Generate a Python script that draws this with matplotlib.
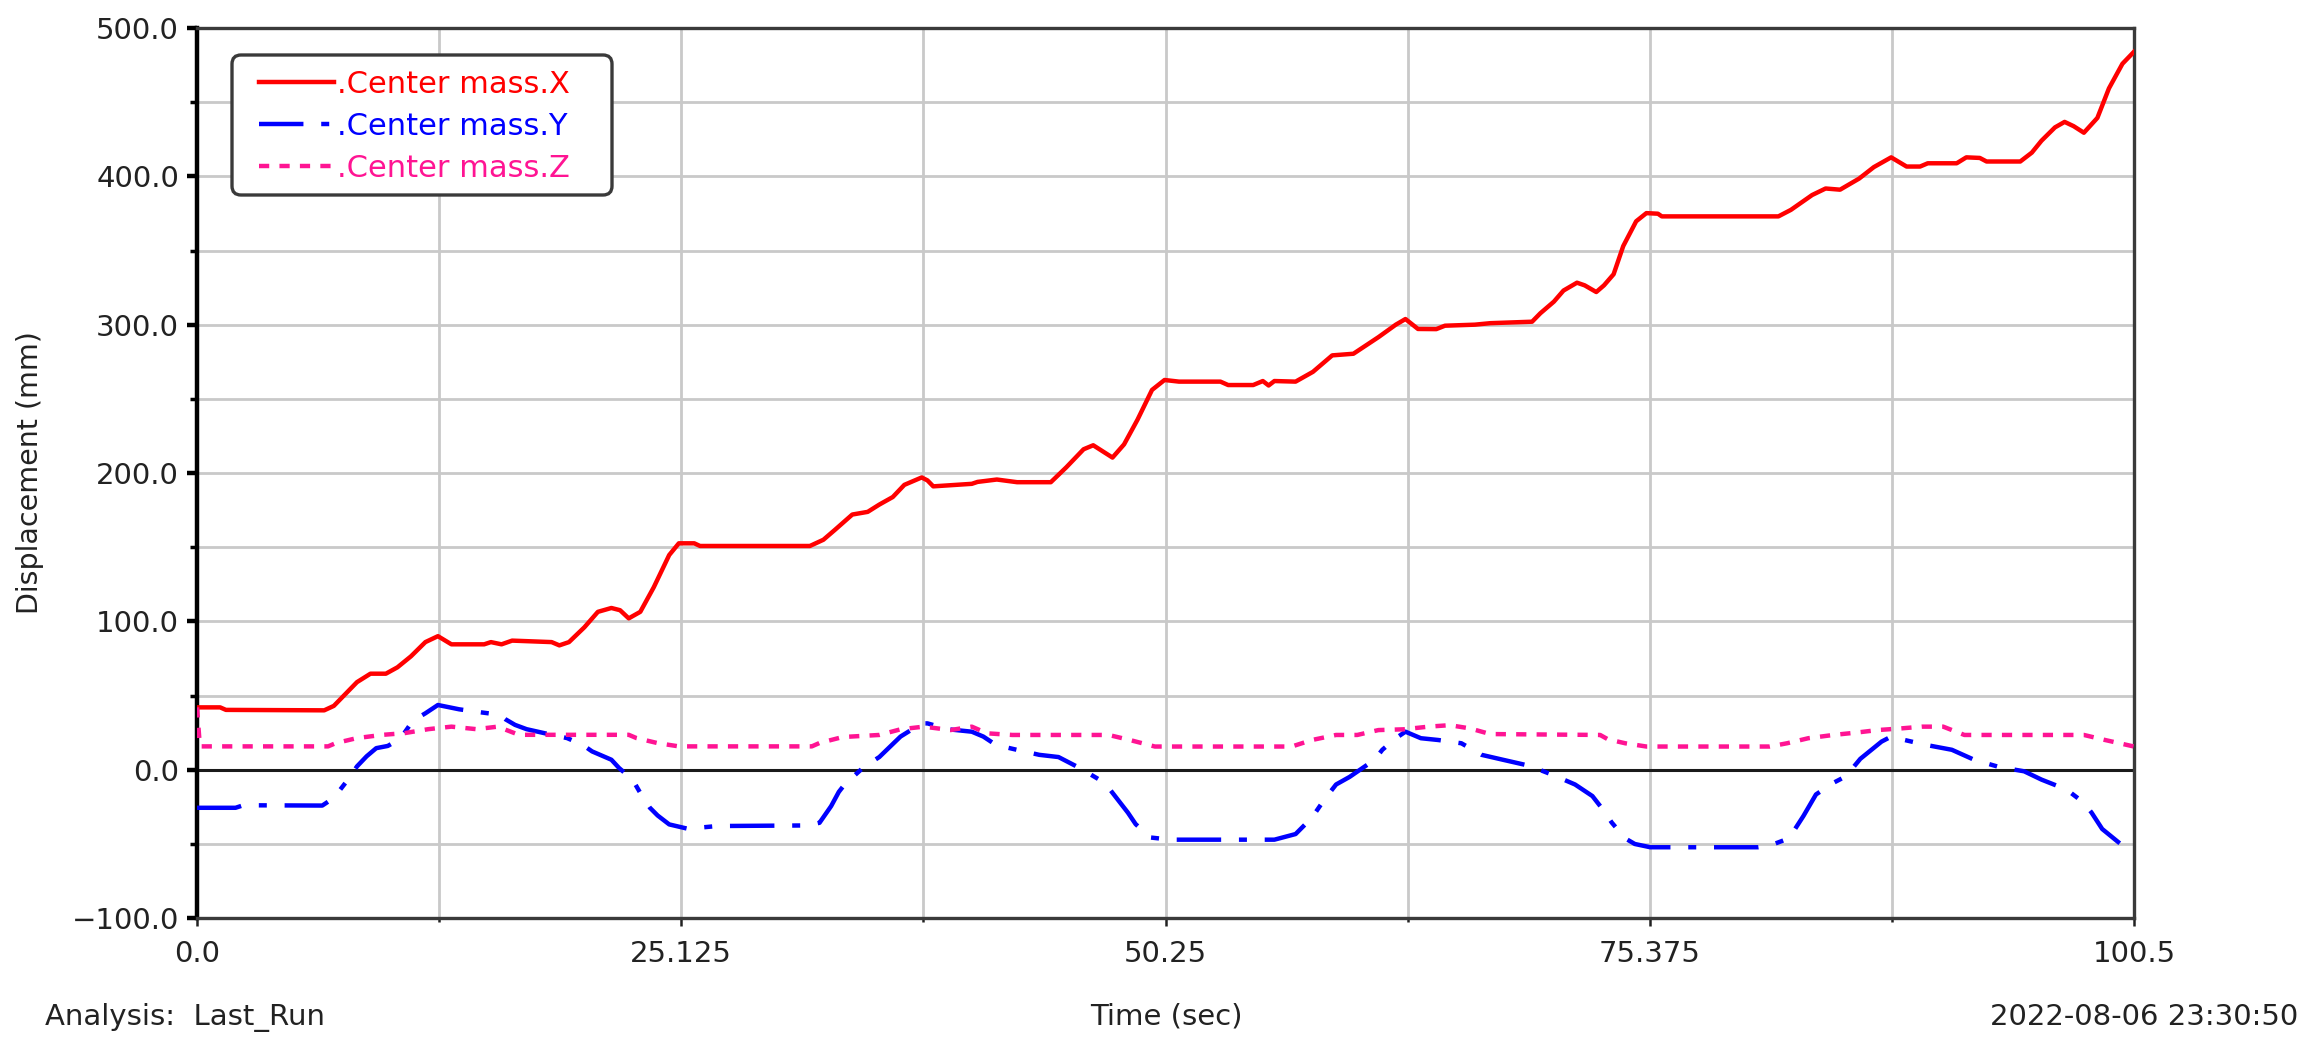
import matplotlib
matplotlib.use("Agg")
import matplotlib.pyplot as plt
from matplotlib.patches import FancyBboxPatch
from matplotlib.transforms import IdentityTransform
import numpy as np

plt.rcParams['font.family'] = ['DejaVu Sans']

# ---- data ----
x_time = [0, 1.2, 1.5, 6.6, 7.1, 8.3, 9.0, 9.8, 10.4, 11.1, 11.85, 12.5, 13.2, 14.9, 15.25, 15.8,
          16.35, 18.4, 18.8, 19.3, 20.1, 20.8, 21.5, 21.95, 22.4, 23.0, 23.7, 24.5, 25.0, 25.8,
          26.1, 31.8, 32.5, 33.1, 34.0, 34.8, 35.4, 36.1, 36.7, 37.6, 37.9, 38.2, 40.2, 40.5,
          41.5, 42.55, 44.3, 45.1, 46.0, 46.5, 47.5, 48.1, 48.8, 49.55, 50.2, 50.95, 53.1, 53.5,
          54.8, 55.3, 55.6, 55.9, 57.0, 57.9, 58.9, 60.0, 61.3, 62.2, 62.7, 63.35, 64.3, 64.75,
          66.3, 67.1, 69.27, 69.7, 70.4, 70.9, 71.6, 72.0, 72.6, 73.0, 73.5, 74.0, 74.67, 75.2,
          75.8, 76.0, 82.05, 82.7, 83.8, 84.5, 85.25, 86.24, 87.0, 87.9, 88.7, 89.4, 89.8, 91.3,
          91.8, 92.5, 92.85, 94.6, 95.2, 95.7, 96.4, 96.9, 97.37, 97.9, 98.6, 99.2, 99.9, 100.5]
x_disp = [42, 42, 40.3, 40, 43, 59, 64.7, 64.7, 69, 76.4, 86, 90, 84.5, 84.5, 86, 84.5,
          87, 86, 83.8, 86, 96, 106.4, 109, 107.5, 102, 106.4, 123, 144.7, 152.6, 152.6,
          150.8, 150.8, 155, 161.7, 172, 173.8, 178.7, 183.8, 192, 197, 195, 191, 192.7, 194,
          195.6, 193.8, 193.8, 203.8, 216, 218.7, 210.4, 219.3, 236, 256, 262.7, 261.6, 261.6, 259.3,
          259.3, 262, 259, 262, 261.6, 268.2, 279.3, 280.4, 291.6, 300, 303.8, 297.1, 297, 299.3,
          300, 301, 302, 307.7, 315.5, 323, 328.3, 326.5, 322, 326.5, 334, 353, 369.7, 375.2,
          374.8, 373, 373, 377.4, 387.4, 391.8, 391, 398.5, 406.2, 412.8, 406.6, 406.6, 408.8, 408.8,
          412.8, 412.4, 410, 410, 416, 424, 433, 436.7, 433.8, 429.4, 439.4, 459.3, 475.9, 484]

y_time = [0, 2.0, 2.4, 6.5, 7.1, 7.9, 8.3, 8.8, 9.3, 9.9, 10.3, 10.75, 11.2, 11.85, 12.5, 13.6,
          14.7, 15.7, 16.0, 16.5, 17.1, 18.4, 19.2, 20.0, 20.5, 21.5, 21.9, 22.6, 23.0, 23.5,
          23.9, 24.5, 25.45, 27.0, 31.7, 32.3, 32.9, 33.3, 33.6, 34.6, 35.4, 36.5, 37.6, 37.9,
          39.0, 40.2, 40.8, 41.45, 42.4, 43.7, 44.7, 45.8, 47.1, 47.9, 48.3, 48.7, 49.45, 50.5,
          55.9, 57.0, 57.85, 58.5, 59.1, 59.8, 61.1, 61.5, 62.2, 62.7, 63.5, 64.4, 65.6, 66.65,
          67.75, 69.1, 70.3, 71.5, 72.4, 73.0, 73.4, 74.1, 74.6, 75.4, 81.0, 81.6, 82.6, 83.35,
          84.0, 84.9, 85.55, 86.3, 87.4, 87.9, 88.6, 89.7, 91.05, 92.2, 93.5, 94.8, 95.7, 97.0,
          97.9, 98.3, 98.85, 99.7, 99.8]
y_disp = [-25.7, -25.7, -24, -24.2, -19, -5.6, 2.2, 9, 14.5, 16, 19, 24.6, 33, 38, 43.6, 40.7,
          38.7, 37, 34, 30.2, 27.3, 23.5, 21.3, 16.8, 12.3, 6.7, 1.1, -6.7, -15.7, -25.7,
          -30.9, -36.9, -39.8, -38, -37.6, -35.8, -24.6, -15, -10, 1.8, 8.5, 22.3, 31.2, 31.2,
          27.2, 25.6, 22.3, 16.7, 13.8, 10, 8.5, 1.1, -8.9, -22.3, -29, -36.7, -45.7, -47.2,
          -47.2, -43.4, -32.3, -20, -10, -4.9, 6.7, 13.4, 21.2, 25.6, 21.2, 20, 17.8, 10,
          6.7, 2.7, -3.3, -10, -17.8, -27.8, -35.6, -46.3, -50.1, -52.3, -52.3, -51.2, -46.3, -31.2,
          -16.7, -8.9, -4.5, 7.3, 18.9, 22.3, 20, 16.7, 13.4, 6.7, 1.8, -1.1, -6.7, -13.4,
          -22.3, -29, -40, -49, -50]

z_time = [0, 0.15, 6.8, 7.2, 8.3, 9.65, 10.75, 12.0, 13.2, 14.5, 15.6, 16.7, 22.4, 22.8, 23.9,
          25.0, 31.9, 32.3, 33.5, 35.4, 36.5, 37.7, 39.1, 40.2, 41.0, 42.3, 47.3, 48.4, 49.7,
          56.8, 57.85, 59.1, 60.2, 61.3, 62.6, 63.9, 65.0, 66.05, 67.1, 72.8, 73.2, 74.1, 75.2,
          81.6, 82.5, 83.6, 84.9, 86.1, 87.2, 88.4, 89.5, 90.6, 91.7, 97.9, 99.0, 100.5]
z_disp = [42, 15.7, 15.7, 17.9, 21.3, 23.5, 24.6, 27.3, 29, 27.3, 29, 23.5, 23.5, 21.3, 17.9,
          15.7, 15.7, 18, 22, 23.4, 27.2, 29, 26.7, 29, 24.5, 23.4, 23.4, 20, 15.6,
          15.6, 20, 23.4, 23.4, 26.7, 27.2, 29, 30, 27.8, 24, 23.4, 20.5, 17.8, 15.6,
          15.6, 17.8, 21.2, 23.4, 25, 26.7, 27.8, 29, 29, 23.4, 23.4, 20, 15.6]

series_labels = ['.Center mass.X', '.Center mass.Y', '.Center mass.Z']
x_major = [0, 25.125, 50.25, 75.375, 100.5]
x_major_labels = ['0.0', '25.125', '50.25', '75.375', '100.5']
x_minor = [12.5625, 37.6875, 62.8125, 87.9375]
y_major = [-100, 0, 100, 200, 300, 400, 500]
y_major_labels = ['\u2212100.0', '0.0', '100.0', '200.0', '300.0', '400.0', '500.0']
y_minor = [-50, 50, 150, 250, 350, 450]

# ---- figure ----
W, H = 2313, 1050
fig = plt.figure(figsize=(W / 100, H / 100), dpi=100)
L, R, T, B = 197, 2134, 28, 918
ax = fig.add_axes([L / W, 1 - B / H, (R - L) / W, (B - T) / H])

ax.set_xlim(0, 100.5)
ax.set_ylim(-100, 500)

grid_c = '#c9c9c9'
ax.set_xticks(x_major)
ax.set_xticklabels(x_major_labels)
ax.set_xticks(x_minor, minor=True)
ax.set_yticks(y_major)
ax.set_yticklabels(y_major_labels)
ax.set_yticks(y_minor, minor=True)
ax.grid(True, which='both', color=grid_c, lw=2.0, zorder=0)
ax.set_axisbelow(True)

ax.axhline(0, color='#1a1a1a', lw=2.2, zorder=1)

lw = 3.2
ax.plot(x_time, x_disp, color='#ff0000', lw=lw, label=series_labels[0], zorder=3)
ax.plot(y_time, y_disp, color='#0000ff', lw=lw, ls=(0, (10, 4, 1.8, 4)),
        label=series_labels[1], zorder=3)
ax.plot(z_time, z_disp, color='#ff1493', lw=lw, ls=(0, (2.3, 2.3)),
        label=series_labels[2], zorder=3)

for side in ['top', 'right', 'bottom']:
    ax.spines[side].set_color('#3a3a3a')
    ax.spines[side].set_linewidth(2.4)
ax.spines['left'].set_color('black')
ax.spines['left'].set_linewidth(3.2)

tick_c = '#222222'
fs = 21
ax.tick_params(axis='y', which='major', direction='out', length=7, width=3.2,
               color='black', labelsize=fs, labelcolor=tick_c, pad=6)
ax.tick_params(axis='y', which='minor', direction='out', length=5, width=2.5, color='black')
ax.tick_params(axis='x', which='major', direction='out', length=6, width=1.8,
               color='#222222', labelsize=fs, labelcolor=tick_c, pad=10)
ax.tick_params(axis='x', which='minor', direction='out', length=3, width=1.8, color='#222222')

# legend frame (rounded box) and legend entries
frame = FancyBboxPatch((232, H - 195), 380, 140, boxstyle='round,pad=0,rounding_size=9',
                       transform=IdentityTransform(), facecolor='white',
                       edgecolor='#3a3a3a', lw=2.4, zorder=4, clip_on=False)
ax.add_artist(frame)
leg_fs = 22
leg = ax.legend(loc='upper left', bbox_to_anchor=(259 / W, (H - 70) / H),
                bbox_transform=fig.transFigure, borderaxespad=0, borderpad=0,
                frameon=False, prop=dict(size=leg_fs), handlelength=2.45,
                handletextpad=0.1, labelspacing=0.42, labelcolor='linecolor')
leg.set_zorder(5)

fig.text(30 / W, 1 - 473 / H, 'Displacement (mm)', rotation=90, ha='center', va='center',
         fontsize=20.5, color=tick_c)
fig.text(45 / W, 1 - 1017 / H, 'Analysis:  Last_Run', ha='left', va='center',
         fontsize=fs, color=tick_c)
fig.text(1166 / W, 1 - 1017 / H, 'Time (sec)', ha='center', va='center',
         fontsize=fs, color=tick_c)
fig.text(2298 / W, 1 - 1017 / H, '2022-08-06 23:30:50', ha='right', va='center',
         fontsize=fs, color=tick_c)

fig.savefig('out.png', dpi=100, facecolor='white')
